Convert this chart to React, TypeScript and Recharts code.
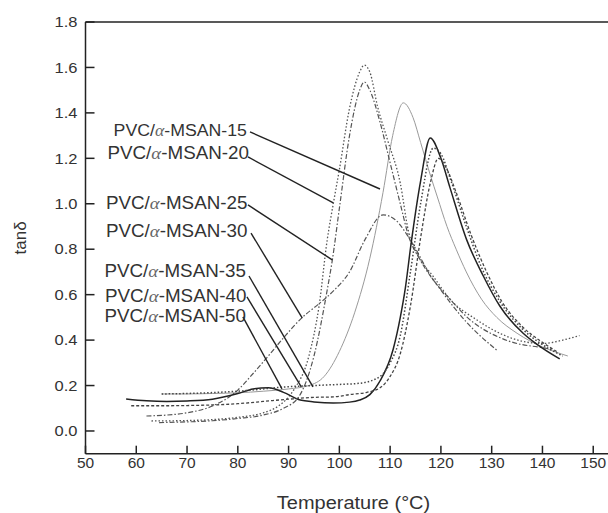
import React from 'react';
import { LineChart, Line, XAxis, YAxis, ReferenceLine, ReferenceDot } from 'recharts';

// ---- axis ticks ----
const xTicks = [50, 60, 70, 80, 90, 100, 110, 120, 130, 140, 150];
const yTicks = [0, 0.2, 0.4, 0.6, 0.8, 1.0, 1.2, 1.4, 1.6, 1.8];
const yTickLabels = ['0.0', '0.2', '0.4', '0.6', '0.8', '1.0', '1.2', '1.4', '1.6', '1.8'];

// ---- series (temperature, tan delta) ----
const t15 = [65, 70, 75, 80, 85, 90, 94, 97, 100, 103, 106, 108.6, 110.5, 112.6, 114.5, 116, 118, 119.3, 121.2, 123, 125, 128, 131, 135, 140, 145];
const v15 = [0.163, 0.163, 0.165, 0.168, 0.175, 0.185, 0.2, 0.24, 0.35, 0.52, 0.76, 1.05, 1.3, 1.444, 1.38, 1.27, 1.12, 1.03, 0.9, 0.8, 0.7, 0.58, 0.5, 0.43, 0.37, 0.33];

const t20 = [63, 70, 75, 80, 85, 88, 91, 94, 96, 97.6, 98.8, 100, 102, 104, 104.9, 106, 107.5, 109.5, 112, 113.6, 115.3, 118.5, 121.8, 127, 131.6, 136, 140, 144, 147.3];
const v20 = [0.044, 0.046, 0.05, 0.06, 0.08, 0.11, 0.18, 0.33, 0.55, 0.84, 1.0, 1.15, 1.42, 1.58, 1.61, 1.58, 1.43, 1.28, 1.09, 0.88, 0.78, 0.68, 0.58, 0.49, 0.43, 0.395, 0.385, 0.4, 0.42];

const t25 = [64.5, 70, 75, 80, 85, 89, 92, 95, 97.6, 98.6, 100, 102, 104, 104.9, 106, 108, 110, 112, 113.6, 116, 120, 125, 131];
const v25 = [0.037, 0.04, 0.045, 0.055, 0.07, 0.1, 0.15, 0.33, 0.62, 0.75, 0.98, 1.3, 1.5, 1.536, 1.5, 1.36, 1.18, 1.0, 0.86, 0.75, 0.62, 0.48, 0.356];

const t30 = [62, 66, 70, 75, 80, 82.5, 86, 89, 92.7, 96, 99, 102, 105, 108.6, 111, 114, 118.5, 121.8, 125.2, 131.7, 135, 139, 142];
const v30 = [0.066, 0.07, 0.08, 0.11, 0.18, 0.24, 0.33, 0.41, 0.5, 0.56, 0.62, 0.7, 0.84, 0.951, 0.93, 0.84, 0.665, 0.58, 0.5, 0.41, 0.385, 0.37, 0.36];

const t35 = [58, 62, 66, 70, 75, 80, 83, 86, 89, 92.3, 95, 98.8, 102, 104, 106, 108, 110.6, 112, 113, 114.1, 116, 117.9, 120, 121.8, 125.1, 128.4, 131.6, 136.2, 139, 143.4];
const v35 = [0.141, 0.133, 0.13, 0.132, 0.14, 0.165, 0.185, 0.19, 0.17, 0.136, 0.128, 0.123, 0.127, 0.136, 0.16, 0.22, 0.36, 0.5, 0.63, 0.82, 1.1, 1.29, 1.2, 1.07, 0.84, 0.68, 0.55, 0.43, 0.38, 0.317];

const t40 = [65, 70, 80, 90, 95, 100, 104, 108, 110, 112, 114, 116, 118.5, 120, 122, 125, 128, 131.6, 136, 140, 144];
const v40 = [0.163, 0.165, 0.175, 0.195, 0.2, 0.205, 0.21, 0.24, 0.3, 0.42, 0.7, 1.0, 1.245, 1.22, 1.1, 0.9, 0.72, 0.57, 0.45, 0.38, 0.33];

const t50 = [59, 65, 70, 80, 85, 90, 95, 98.8, 102, 105.4, 108, 110, 112, 114, 116, 118, 119.5, 121, 123, 126, 129, 132, 136, 140, 142.8];
const v50 = [0.111, 0.111, 0.112, 0.12, 0.13, 0.14, 0.148, 0.15, 0.16, 0.17, 0.19, 0.24, 0.34, 0.55, 0.85, 1.1, 1.2, 1.16, 1.05, 0.86, 0.7, 0.57, 0.46, 0.39, 0.35];

// ---- annotations: label suffix, text anchor (end) and leader line in data units ----
const labelSuffix = ['15', '20', '25', '30', '35', '40', '50'];
const labelTextT = [81.8, 82.2, 81.9, 81.9, 81.6, 81.7, 81.6];
const labelTextY = [1.323, 1.224, 1.001, 0.878, 0.702, 0.594, 0.506];
const leaderStartT = [82.4, 82.0, 82.0, 82.6, 82.2, 81.8, 81.0];
const leaderStartY = [1.316, 1.206, 0.995, 0.871, 0.682, 0.59, 0.502];
const leaderEndT = [108.0, 98.8, 98.6, 92.7, 94.8, 92.5, 88.7];
const leaderEndY = [1.065, 1.004, 0.753, 0.497, 0.194, 0.194, 0.185];

const toPoints = (t: number[], v: number[]) => t.map((x, i) => ({ x, y: v[i] }));

const series = [
  { key: '15', data: toPoints(t15, v15), stroke: '#999', width: 1, dash: undefined as string | undefined },
  { key: '20', data: toPoints(t20, v20), stroke: '#555', width: 1.3, dash: '1.5 2' },
  { key: '25', data: toPoints(t25, v25), stroke: '#555', width: 1.2, dash: '5 2 1.5 2' },
  { key: '30', data: toPoints(t30, v30), stroke: '#555', width: 1.2, dash: '5 2 1.5 2' },
  { key: '35', data: toPoints(t35, v35), stroke: '#222', width: 1.5, dash: undefined },
  { key: '40', data: toPoints(t40, v40), stroke: '#444', width: 1.5, dash: '1.5 2' },
  { key: '50', data: toPoints(t50, v50), stroke: '#444', width: 1.3, dash: '3 2' },
];

const FONT = '"Liberation Sans", Arial, sans-serif';

const YTick = (props: any) => {
  const { x, y, payload } = props;
  const idx = yTicks.indexOf(payload.value);
  return (
    <g>
      <line x1={x} x2={x + 9} y1={y} y2={y} stroke="#222" strokeWidth={1.5} />
      <text
        transform={`translate(${x - 8},${y}) scale(1.1,1)`}
        x={0}
        y={0}
        textAnchor="end"
        dominantBaseline="central"
        fontFamily={FONT}
        fontSize={15}
        fill="#333"
      >
        {idx >= 0 ? yTickLabels[idx] : payload.value}
      </text>
    </g>
  );
};

const XTick = (props: any) => {
  const { x, y, payload } = props;
  return (
    <g>
      <line x1={x} x2={x} y1={y} y2={y - 8} stroke="#222" strokeWidth={1.5} />
      <text x={x} y={y + 14.5} textAnchor="middle" fontFamily={FONT} fontSize={15.5} fill="#333">
        {payload.value}
      </text>
    </g>
  );
};

const makeLabel = (suffix: string, size: number) => (p: any) => {
  const vb = p.viewBox || {};
  return (
    <text
      transform={`translate(${vb.x},${vb.y}) scale(1.075,1)`}
      x={0}
      y={0}
      textAnchor="end"
      dominantBaseline="central"
      fontFamily={FONT}
      fontSize={size}
      fill="#333"
    >
      PVC/<tspan fontFamily='"Liberation Serif", serif' fontStyle="italic" fill="#666">α</tspan>-MSAN-{suffix}
    </text>
  );
};

export default function App() {
  return (
    <div style={{ position: 'absolute', left: 0, top: 0, width: 608, height: 513, overflow: 'hidden', background: '#fff' }}>
      <LineChart width={644} height={513} margin={{ top: 22, right: 0, bottom: 0, left: 0 }}>
        <XAxis
          type="number"
          dataKey="x"
          domain={[50, 160]}
          ticks={xTicks}
          height={59.3}
          tickSize={0}
          tickMargin={0}
          tickLine={false}
          tick={<XTick />}
          axisLine={{ stroke: '#222', strokeWidth: 1.5 }}
          allowDataOverflow
          label={{
            content: (p: any) => {
              const vb = p.viewBox || {};
              return (
                <text
                  transform={`translate(${vb.x + 268},${vb.y + 55}) scale(1.08,1)`}
                  x={0}
                  y={0}
                  textAnchor="middle"
                  fontFamily={FONT}
                  fontSize={18.5}
                  fill="#333"
                >
                  Temperature (°C)
                </text>
              );
            },
          }}
        />
        <YAxis
          type="number"
          domain={[-0.1, 1.8]}
          ticks={yTicks}
          width={85.5}
          tickSize={0}
          tickMargin={0}
          tickLine={false}
          tick={<YTick />}
          axisLine={{ stroke: '#222', strokeWidth: 1.5 }}
          allowDataOverflow
          label={{
            content: (p: any) => {
              const vb = p.viewBox || {};
              const cx = vb.x + 21;
              const cy = vb.y + vb.height / 2;
              return (
                <text x={cx} y={cy} transform={`rotate(-90 ${cx} ${cy})`} textAnchor="middle" dominantBaseline="central" fontFamily={FONT} fontSize={17} fill="#333">
                  tanδ
                </text>
              );
            },
          }}
        />
        <ReferenceLine y={1.8} stroke="#222" strokeWidth={1.5} ifOverflow="visible" />
        {series.map((s) => (
          <Line
            key={s.key}
            data={s.data}
            dataKey="y"
            type="monotone"
            stroke={s.stroke}
            strokeWidth={s.width}
            strokeDasharray={s.dash}
            dot={false}
            activeDot={false}
            isAnimationActive={false}
          />
        ))}
        {labelSuffix.map((suf, i) => (
          <ReferenceLine
            key={'l' + suf}
            segment={[
              { x: leaderStartT[i], y: leaderStartY[i] },
              { x: leaderEndT[i], y: leaderEndY[i] },
            ]}
            stroke="#222"
            strokeWidth={1.4}
            ifOverflow="visible"
          />
        ))}
        {labelSuffix.map((suf, i) => (
          <ReferenceDot
            key={'t' + suf}
            x={labelTextT[i]}
            y={labelTextY[i]}
            r={0}
            fill="none"
            stroke="none"
            ifOverflow="visible"
            label={makeLabel(suf, i === 0 ? 16.5 : 17.5)}
          />
        ))}
      </LineChart>
    </div>
  );
}
